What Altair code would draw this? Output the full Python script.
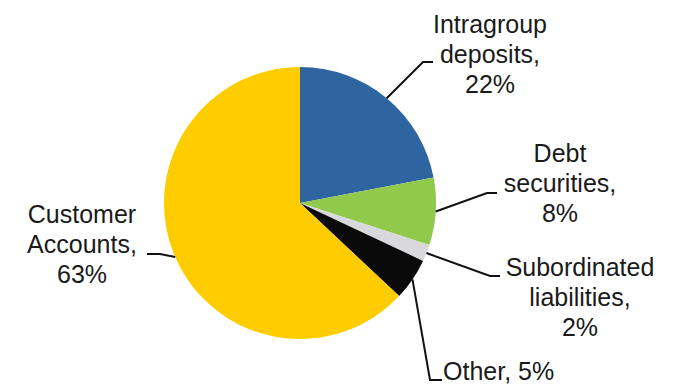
import altair as alt
import numpy as np
import pandas as pd

# ---- data ----
categories = ["Intragroup deposits", "Debt securities", "Subordinated liabilities", "Other", "Customer Accounts"]
values = [22, 8, 2, 5, 63]
label_lines = [
    ["Intragroup", "deposits,", "22%"],
    ["Debt", "securities,", "8%"],
    ["Subordinated", "liabilities,", "2%"],
    ["Other, 5%"],
    ["Customer", "Accounts,", "63%"],
]

# ---- layout / style ----
colors = ["#2E64A0", "#90C94C", "#D9D9DC", "#0A0A0A", "#FFCC00"]
W, H = 675, 390
CX, CY, R = 300, 203, 136
label_pos = [(490, 33), (560, 162), (580, 276), (443, 380), (82, 223)]
label_align = ["center", "center", "center", "left", "center"]
leader_elbow = [[(423, 62), (433, 62)],
                [(487, 193), (497, 193)],
                [(490, 276), (500, 276)],
                [(430, 380), (442, 380)],
                [(160, 254), (147, 254)]]

df = pd.DataFrame({"category": categories, "value": values, "order": range(len(values))})

# leader lines start at the slice mid-angle on the rim
total = float(sum(values))
cum = np.cumsum([0] + values)
rows = []
for i, cat in enumerate(categories):
    mid = (cum[i] + cum[i + 1]) / 2 / total * 2 * np.pi
    sx = CX + R * np.sin(mid)
    sy = CY - R * np.cos(mid)
    pts = [(sx, sy)] + leader_elbow[i]
    for j, (px, py) in enumerate(pts):
        rows.append({"seg": cat, "idx": j, "x": px, "y": py})
lines_df = pd.DataFrame(rows)

labels_df = pd.DataFrame({
    "category": categories,
    "text": ["\n".join(l) for l in label_lines],
    "x": [p[0] for p in label_pos],
    "y": [p[1] for p in label_pos],
    "align": label_align,
})

xs = alt.Scale(domain=[0, W], range=[0, W], nice=False, zero=False)
ys = alt.Scale(domain=[0, H], range=[0, H], nice=False, zero=False)

pie = alt.Chart(df).mark_arc(radius=R, stroke=None).encode(
    theta=alt.Theta("value:Q", stack=True),
    color=alt.Color("category:N", scale=alt.Scale(domain=categories, range=colors), legend=None),
    order=alt.Order("order:Q"),
    x=alt.value(CX),
    y=alt.value(CY),
)

leaders = alt.Chart(lines_df).mark_line(color="#111111", strokeWidth=2).encode(
    x=alt.X("x:Q", scale=xs, axis=None),
    y=alt.Y("y:Q", scale=ys, axis=None),
    detail="seg:N",
    order="idx:Q",
)

def text_layer(align):
    return alt.Chart(labels_df[labels_df["align"] == align]).mark_text(
        align=align, baseline="alphabetic", font="Liberation Sans", fontSize=25,
        lineHeight=30, lineBreak="\n", color="#1A1A1A",
    ).encode(
        x=alt.X("x:Q", scale=xs, axis=None),
        y=alt.Y("y:Q", scale=ys, axis=None),
        text="text:N",
    )

chart = alt.layer(pie, leaders, text_layer("center"), text_layer("left")).properties(
    width=W, height=H, padding=0, autosize="none", background="white"
).configure_view(stroke=None)

chart.save("out.html", embed_options={"renderer": "svg", "actions": False})
